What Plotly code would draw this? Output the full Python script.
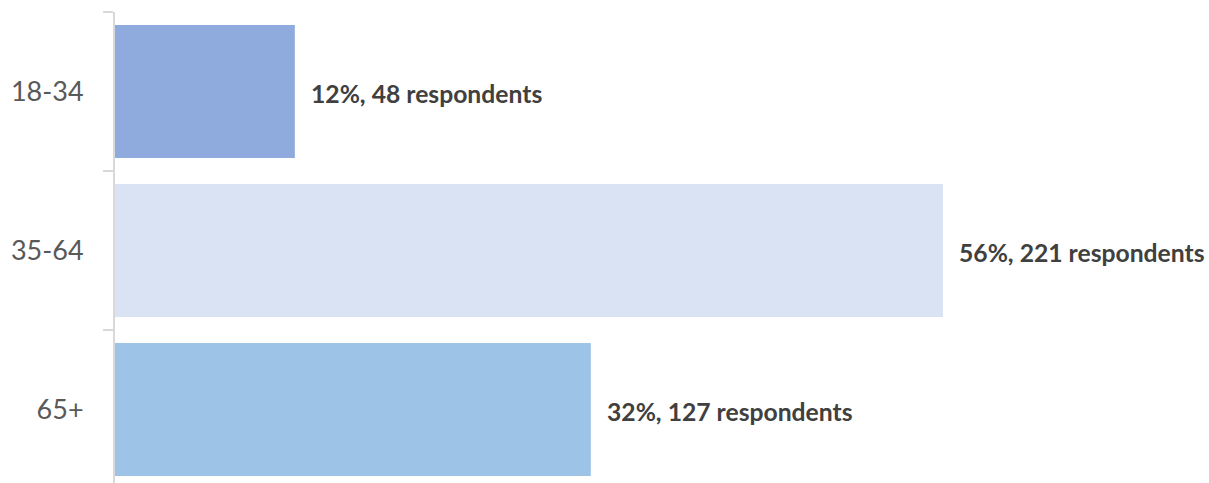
import plotly.graph_objects as go

categories = ["18-34", "35-64", "65+"]
percent = [12, 56, 32]
respondents = [48, 221, 127]
colors = ["#8FAADC", "#DAE3F3", "#9DC3E6"]

labels = [f"{p}%, {r} respondents" for p, r in zip(percent, respondents)]

fig = go.Figure()
fig.add_trace(go.Bar(
    x=respondents,
    y=categories,
    orientation="h",
    marker=dict(color=colors, line=dict(width=0)),
    hoverinfo="skip",
))

for c, r, t in zip(categories, respondents, labels):
    fig.add_annotation(
        x=r, y=c, text=f"<b>{t}</b>", showarrow=False,
        xanchor="left", yanchor="middle", xshift=14, yshift=-2,
        font=dict(family="Lato", size=24.7, color="#404040"),
    )

fig.update_layout(
    width=1209, height=483,
    margin=dict(l=115, r=0, t=12, b=0),
    paper_bgcolor="white", plot_bgcolor="white",
    bargap=0.164,
    showlegend=False,
    xaxis=dict(range=[0, 292], visible=False, fixedrange=True, automargin=False),
    yaxis=dict(
        type="category", automargin=False,
        categoryorder="array", categoryarray=categories,
        range=[2.462, -0.5],
        showline=True, linecolor="#D9D9D9", linewidth=2,
        ticks="outside", tickson="boundaries", ticklen=10, tickcolor="#D9D9D9", tickwidth=2,
        ticklabelstandoff=24,
        tickfont=dict(family="Lato", size=27, color="#595959"),
        showgrid=False, zeroline=False,
    ),
)

fig.write_html(
    "out.html",
    config={"displayModeBar": False},
    post_script="document.body.style.margin='0';document.body.style.overflow='hidden';",
)
